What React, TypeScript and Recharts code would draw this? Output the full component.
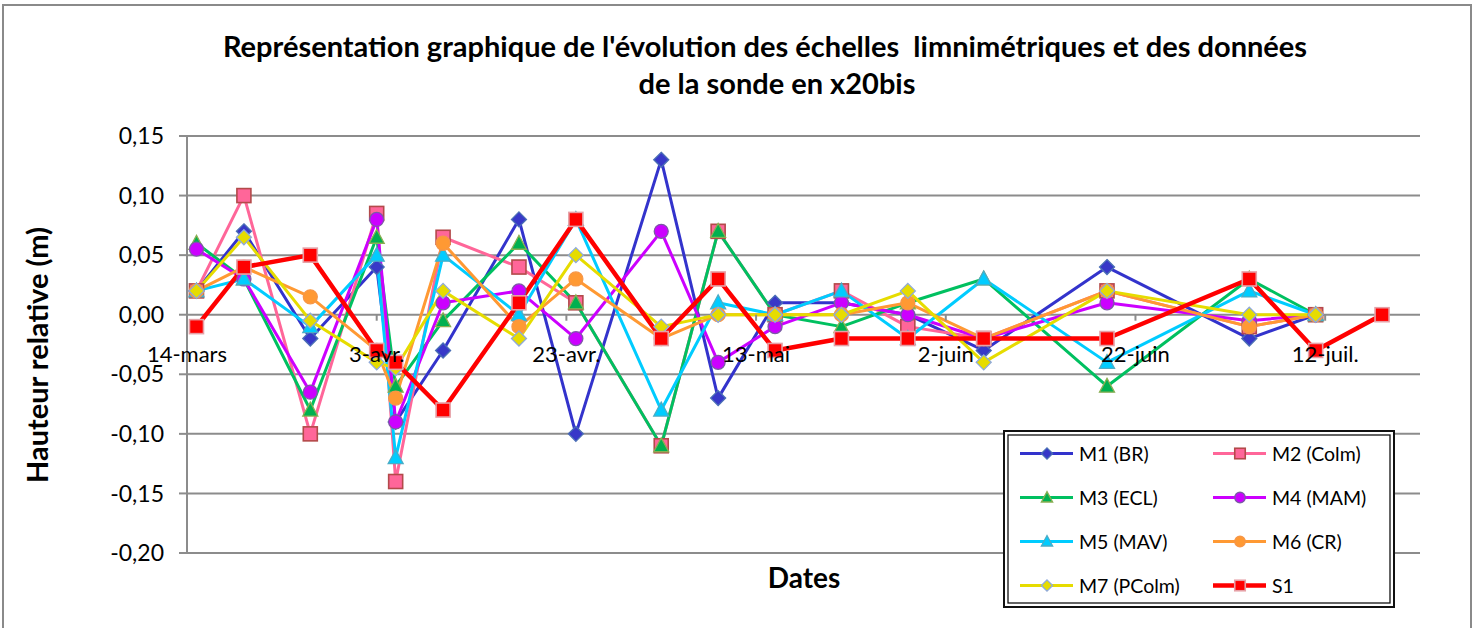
import React from 'react';
import { LineChart, Line, XAxis, YAxis, CartesianGrid } from 'recharts';

// Days counted from 14 March
const DAYS = [1, 6, 13, 20, 22, 27, 35, 41, 50, 56, 62, 69, 76, 84, 97, 112, 119, 126];

const M1 = [0.02, 0.07, -0.02, 0.04, -0.09, -0.03, 0.08, -0.1, 0.13, -0.07, 0.01, 0.01, 0.0, -0.03, 0.04, -0.02, 0];
const M2 = [0.02, 0.1, -0.1, 0.085, -0.14, 0.065, 0.04, 0.01, -0.11, 0.07, 0.0, 0.02, -0.01, -0.02, 0.02, -0.01, 0];
const M3 = [0.06, 0.03, -0.08, 0.065, -0.06, -0.005, 0.06, 0.01, -0.11, 0.07, 0.0, -0.01, 0.01, 0.03, -0.06, 0.03, 0];
const M4 = [0.055, 0.03, -0.065, 0.08, -0.09, 0.01, 0.02, -0.02, 0.07, -0.04, -0.01, 0.01, 0.0, -0.02, 0.01, -0.005, 0];
const M5 = [0.02, 0.03, -0.01, 0.05, -0.12, 0.05, 0.0, 0.08, -0.08, 0.01, 0.0, 0.02, -0.02, 0.03, -0.04, 0.02, 0];
const M6 = [0.02, 0.04, 0.015, -0.03, -0.07, 0.06, -0.01, 0.03, -0.02, 0.0, 0.0, 0.0, 0.01, -0.02, 0.02, -0.01, 0];
const M7 = [0.02, 0.065, -0.005, -0.04, -0.045, 0.02, -0.02, 0.05, -0.01, 0.0, 0.0, 0.0, 0.02, -0.04, 0.02, 0.0, 0];
const S1 = [-0.01, 0.04, 0.05, -0.03, -0.04, -0.08, 0.01, 0.08, -0.02, 0.03, -0.03, -0.02, -0.02, -0.02, -0.02, 0.03, -0.03, 0];

const TICK_DAYS = [0, 20, 40, 60, 80, 100, 120];
const TICK_LABELS = ['14-mars', '3-avr.', '23-avr.', '13-mai', '2-juin', '22-juin', '12-juil.'];
const Y_TICKS = [-0.2, -0.15, -0.1, -0.05, 0, 0.05, 0.1, 0.15];

const TITLE_1 = "Représentation graphique de l'évolution des échelles  limnimétriques et des données";
const TITLE_2 = 'de la sonde en x20bis';
const Y_TITLE = 'Hauteur relative (m)';
const X_TITLE = 'Dates';

type Shape = 'diamond' | 'square' | 'triangle' | 'circle';
interface SeriesDef {
  key: string;
  name: string;
  values: number[];
  color: string;
  width: number;
  shape: Shape;
  fill: string;
  mstroke: string;
}

const SERIES: SeriesDef[] = [
  { key: 'm1', name: 'M1 (BR)', values: M1, color: '#3333CC', width: 3, shape: 'diamond', fill: '#3838C8', mstroke: '#4A6FB5' },
  { key: 'm2', name: 'M2 (Colm)', values: M2, color: '#FF6699', width: 3, shape: 'square', fill: '#FF6699', mstroke: '#B34A4A' },
  { key: 'm3', name: 'M3 (ECL)', values: M3, color: '#00C060', width: 3, shape: 'triangle', fill: '#00B050', mstroke: '#8AAE52' },
  { key: 'm4', name: 'M4 (MAM)', values: M4, color: '#CC00FF', width: 3, shape: 'circle', fill: '#CC00FF', mstroke: '#7B5AA6' },
  { key: 'm5', name: 'M5 (MAV)', values: M5, color: '#00CCFF', width: 3, shape: 'triangle', fill: '#00CCFF', mstroke: '#4BACC6' },
  { key: 'm6', name: 'M6 (CR)', values: M6, color: '#FF9933', width: 3, shape: 'circle', fill: '#FF9933', mstroke: '#F79646' },
  { key: 'm7', name: 'M7 (PColm)', values: M7, color: '#E6DC00', width: 3, shape: 'diamond', fill: '#E6DC00', mstroke: '#8EA9DB' },
  { key: 's1', name: 'S1', values: S1, color: '#FF0000', width: 4.5, shape: 'square', fill: '#FF0000', mstroke: '#E6A0A6' },
];

const DATA = DAYS.map((d, i) => {
  const row: Record<string, number | null> = { day: d };
  SERIES.forEach((s) => {
    row[s.key] = i < s.values.length ? s.values[i] : null;
  });
  return row;
});

const W = 1477;
const H = 628;
const PLOT_LEFT = 187;
const PLOT_RIGHT = 1420;
const PLOT_TOP = 136;
const PLOT_BOTTOM = 553;
const Y_AXIS_W = 80;
const X_AXIS_H = 1;
const Y_MIN = -0.2;
const Y_MAX = 0.15;
const X_MIN = 0;
const X_MAX = 130;
const ZERO_Y = PLOT_TOP + ((PLOT_BOTTOM - PLOT_TOP) * (Y_MAX - 0)) / (Y_MAX - Y_MIN);
const GRID = '#8c8c8c';
const FONT = 'Lato, "Open Sans", sans-serif';

function Marker({ shape, cx, cy, fill, stroke, s }: { shape: Shape; cx: number; cy: number; fill: string; stroke: string; s: number }) {
  if (shape === 'diamond') {
    const r = 7.5 * s;
    return <polygon points={`${cx},${cy - r} ${cx + r},${cy} ${cx},${cy + r} ${cx - r},${cy}`} fill={fill} stroke={stroke} strokeWidth={1.3} />;
  }
  if (shape === 'square') {
    const r = 7 * s;
    return <rect x={cx - r} y={cy - r} width={2 * r} height={2 * r} fill={fill} stroke={stroke} strokeWidth={1.6} />;
  }
  if (shape === 'triangle') {
    const r = 7.5 * s;
    return <polygon points={`${cx},${cy - r * 1.05} ${cx + r},${cy + r * 0.8} ${cx - r},${cy + r * 0.8}`} fill={fill} stroke={stroke} strokeWidth={1.3} />;
  }
  return <circle cx={cx} cy={cy} r={7 * s} fill={fill} stroke={stroke} strokeWidth={1.3} />;
}

function makeDot(s: SeriesDef) {
  return (p: any) => {
    const key = `${s.key}-dot-${p.index}`;
    if (p.cx == null || p.cy == null || p.value == null || (Array.isArray(p.value) && p.value[1] == null)) {
      return <g key={key} />;
    }
    return (
      <g key={key}>
        <Marker shape={s.shape} cx={p.cx} cy={p.cy} fill={s.fill} stroke={s.mstroke} s={1} />
      </g>
    );
  };
}

function XTick(props: any) {
  const { x, payload } = props;
  const i = TICK_DAYS.indexOf(payload.value);
  return (
    <g>
      <line x1={x} x2={x} y1={ZERO_Y} y2={ZERO_Y + 6} stroke={GRID} strokeWidth={2} />
      <text x={x} y={ZERO_Y + 47} textAnchor="middle" fontSize={22} fill="#000" fontFamily={FONT}>
        {TICK_LABELS[i]}
      </text>
    </g>
  );
}

function LegendBox() {
  const left = 1003;
  const top = 430;
  const w = 392;
  const h = 178;
  return (
    <svg width={w} height={h} style={{ position: 'absolute', left, top }}>
      <rect x={1} y={1} width={w - 2} height={h - 2} fill="#fff" stroke="#111" strokeWidth={2} />
      <rect x={5} y={5} width={w - 10} height={h - 10} fill="none" stroke="#111" strokeWidth={1.3} />
      {SERIES.map((s, i) => {
        const col = i % 2;
        const row = Math.floor(i / 2);
        const x0 = col === 0 ? 17 : 210;
        const cy = 23.5 + row * 44;
        return (
          <g key={s.key}>
            <line x1={x0} x2={x0 + 53} y1={cy} y2={cy} stroke={s.color} strokeWidth={s.width} />
            <Marker shape={s.shape} cx={x0 + 27} cy={cy} fill={s.fill} stroke={s.mstroke} s={0.75} />
            <text x={x0 + 59} y={cy + 7} fontSize={19.5} fill="#000" fontFamily={FONT}>
              {s.name}
            </text>
          </g>
        );
      })}
    </svg>
  );
}

export default function App() {
  return (
    <div style={{ position: 'absolute', left: 0, top: 0, width: W, height: H, background: '#fff', overflow: 'hidden', fontFamily: FONT }}>
      <div style={{ position: 'absolute', left: 2, top: 4, width: 1470, height: 700, border: '2px solid #8a8a8a', boxSizing: 'border-box' }} />
      <div style={{ position: 'absolute', left: 0, top: 0 }}>
        <LineChart
          width={W}
          height={H}
          data={DATA}
          margin={{ top: PLOT_TOP, right: W - PLOT_RIGHT, bottom: H - PLOT_BOTTOM - X_AXIS_H, left: PLOT_LEFT - Y_AXIS_W }}
        >
          <CartesianGrid vertical={false} stroke={GRID} strokeWidth={2} />
          <XAxis
            type="number"
            dataKey="day"
            domain={[X_MIN, X_MAX]}
            ticks={TICK_DAYS}
            interval={0}
            axisLine={false}
            tickLine={false}
            height={X_AXIS_H}
            tick={<XTick />}
            allowDataOverflow
          />
          <YAxis
            type="number"
            domain={[Y_MIN, Y_MAX]}
            ticks={Y_TICKS}
            interval={0}
            width={Y_AXIS_W}
            tickFormatter={(v: number) => v.toFixed(2).replace('.', ',')}
            axisLine={{ stroke: GRID, strokeWidth: 2 }}
            tickLine={{ stroke: GRID, strokeWidth: 2 }}
            tickSize={8}
            tickMargin={15}
            tick={{ fontSize: 23, fill: '#000', fontFamily: FONT }}
            allowDataOverflow
          />
          {SERIES.map((s) => (
            <Line
              key={s.key}
              type="linear"
              dataKey={s.key}
              name={s.name}
              stroke={s.color}
              strokeWidth={s.width}
              strokeLinejoin="round"
              dot={makeDot(s)}
              activeDot={false}
              isAnimationActive={false}
            />
          ))}
        </LineChart>
      </div>
      <svg width={W} height={H} style={{ position: 'absolute', left: 0, top: 0, pointerEvents: 'none' }}>
        <text x={765} y={57} textAnchor="middle" fontSize={29} fontWeight="bold" fill="#000" fontFamily={FONT} style={{ whiteSpace: 'pre' }}>
          {TITLE_1}
        </text>
        <text x={777} y={94} textAnchor="middle" fontSize={29} fontWeight="bold" fill="#000" fontFamily={FONT}>
          {TITLE_2}
        </text>
        <text transform="translate(48,355) rotate(-90)" textAnchor="middle" fontSize={29} fontWeight="bold" fill="#000" fontFamily={FONT}>
          {Y_TITLE}
        </text>
        <text x={804} y={588} textAnchor="middle" fontSize={28} fontWeight="bold" fill="#000" fontFamily={FONT}>
          {X_TITLE}
        </text>
      </svg>
      <LegendBox />
    </div>
  );
}
